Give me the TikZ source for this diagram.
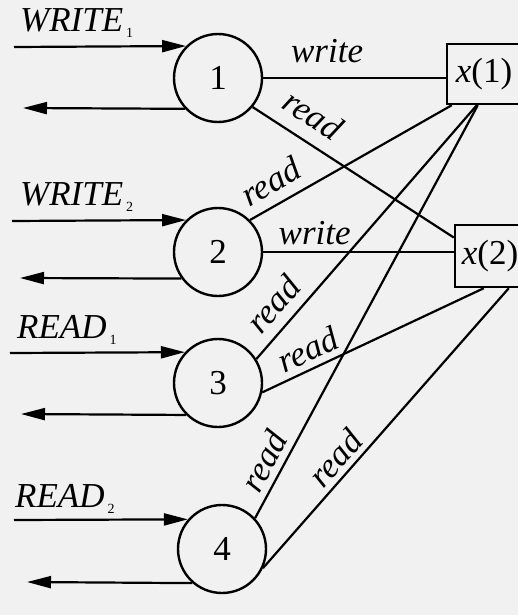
\documentclass[tikz,border=0pt]{standalone}
\usepackage{fontspec}
\setmainfont{Liberation Serif}
\usetikzlibrary{arrows.meta,calc}
\definecolor{bg}{RGB}{241,241,241}
\newcommand\subsc[1]{\kern3pt\raisebox{-6pt}{\fontsize{14}{14}\selectfont #1}}
\begin{document}
\begin{tikzpicture}[x=1pt,y=-1pt,
  font=\fontsize{35}{40}\selectfont,
  proc/.style={circle,draw,line width=2.4pt,minimum size=88pt,inner sep=0pt},
  var/.style={rectangle,draw,line width=2.4pt,inner sep=0pt},
  conn/.style={line width=2.2pt},
  arr/.style={line width=2.2pt,-{Triangle[length=24pt,width=12pt]}},
  lab/.style={anchor=base west,inner sep=0pt},
  elab/.style={sloped,inner sep=0pt,font=\fontsize{35}{40}\selectfont\itshape}]
\fill[bg] (0,0) rectangle (518,615);
\useasboundingbox (0,0) rectangle (518,615);
\clip (0,0) rectangle (518,615);

% processes
\node[proc] (c1) at (218,78) {1};
\node[proc] (c2) at (218,252) {2};
\node[proc] (c3) at (218,383) {3};
\node[proc] (c4) at (222,549) {4};

% variables
\node[var,minimum width=74pt,minimum height=60pt] (x1) at (484,74) {\textit{x}(1)};
\node[var,minimum width=70pt,minimum height=62pt] (x2) at (490,256) {\textit{x}(2)};

% external labels
\node[lab] (w1) at (20,32) {\textit{WRITE}\subsc{1}};
\node[lab] (w2) at (20,205) {\textit{WRITE}\subsc{2}};
\node[lab] (r1) at (17,338) {\textit{READ}\subsc{1}};
\node[lab] (r2) at (15,507) {\textit{READ}\subsc{2}};

% external arrow end points
\coordinate (a1) at (14,47);
\coordinate (b1) at (23,108);
\coordinate (a2) at (12,221);
\coordinate (b2) at (20,278);
\coordinate (a3) at (10,353);
\coordinate (b3) at (21,414);
\coordinate (a4) at (14,520);
\coordinate (b4) at (27,582);

\draw[arr] (a1) -- (c1.135);
\draw[arr] (c1.-137) -- (b1);
\draw[arr] (a2) -- (c2.135);
\draw[arr] (c2.-144) -- (b2);
\draw[arr] (a3) -- (c3.137);
\draw[arr] (c3.-135) -- (b3);
\draw[arr] (a4) -- (c4.139);
\draw[arr] (c4.-131) -- (b4);

% connectors
\draw[conn] (c1.east) -- node[elab,pos=0.35,above=14pt] {write} (c1.east -| x1.west);
\draw[conn] (c1.-40) -- node[elab,pos=0.23,above=13pt] {read} (x2.153);
\draw[conn] (c2.45) -- node[elab,pos=0.16,above=10pt] {read} ([xshift=6pt]x1.south west);
\draw[conn] (c2.east) -- node[elab,pos=0.27,above=6pt] {write} (c2.east -| x2.west);
\draw[conn] (c3.32) -- node[elab,pos=0.157,above=10pt] {read} ([xshift=31pt]x1.south west);
\draw[conn] (c3.-12) -- node[elab,pos=0.244,above=6pt] {read} ([xshift=30pt]x2.south west);
\draw[conn] (c4.43) -- node[elab,pos=0.116,above=6pt] {read} ([xshift=32pt]x1.south west);
\draw[conn] (c4.-25) -- node[elab,pos=0.35,above=5pt] {read} ([xshift=55pt]x2.south west);
\end{tikzpicture}
\end{document}
